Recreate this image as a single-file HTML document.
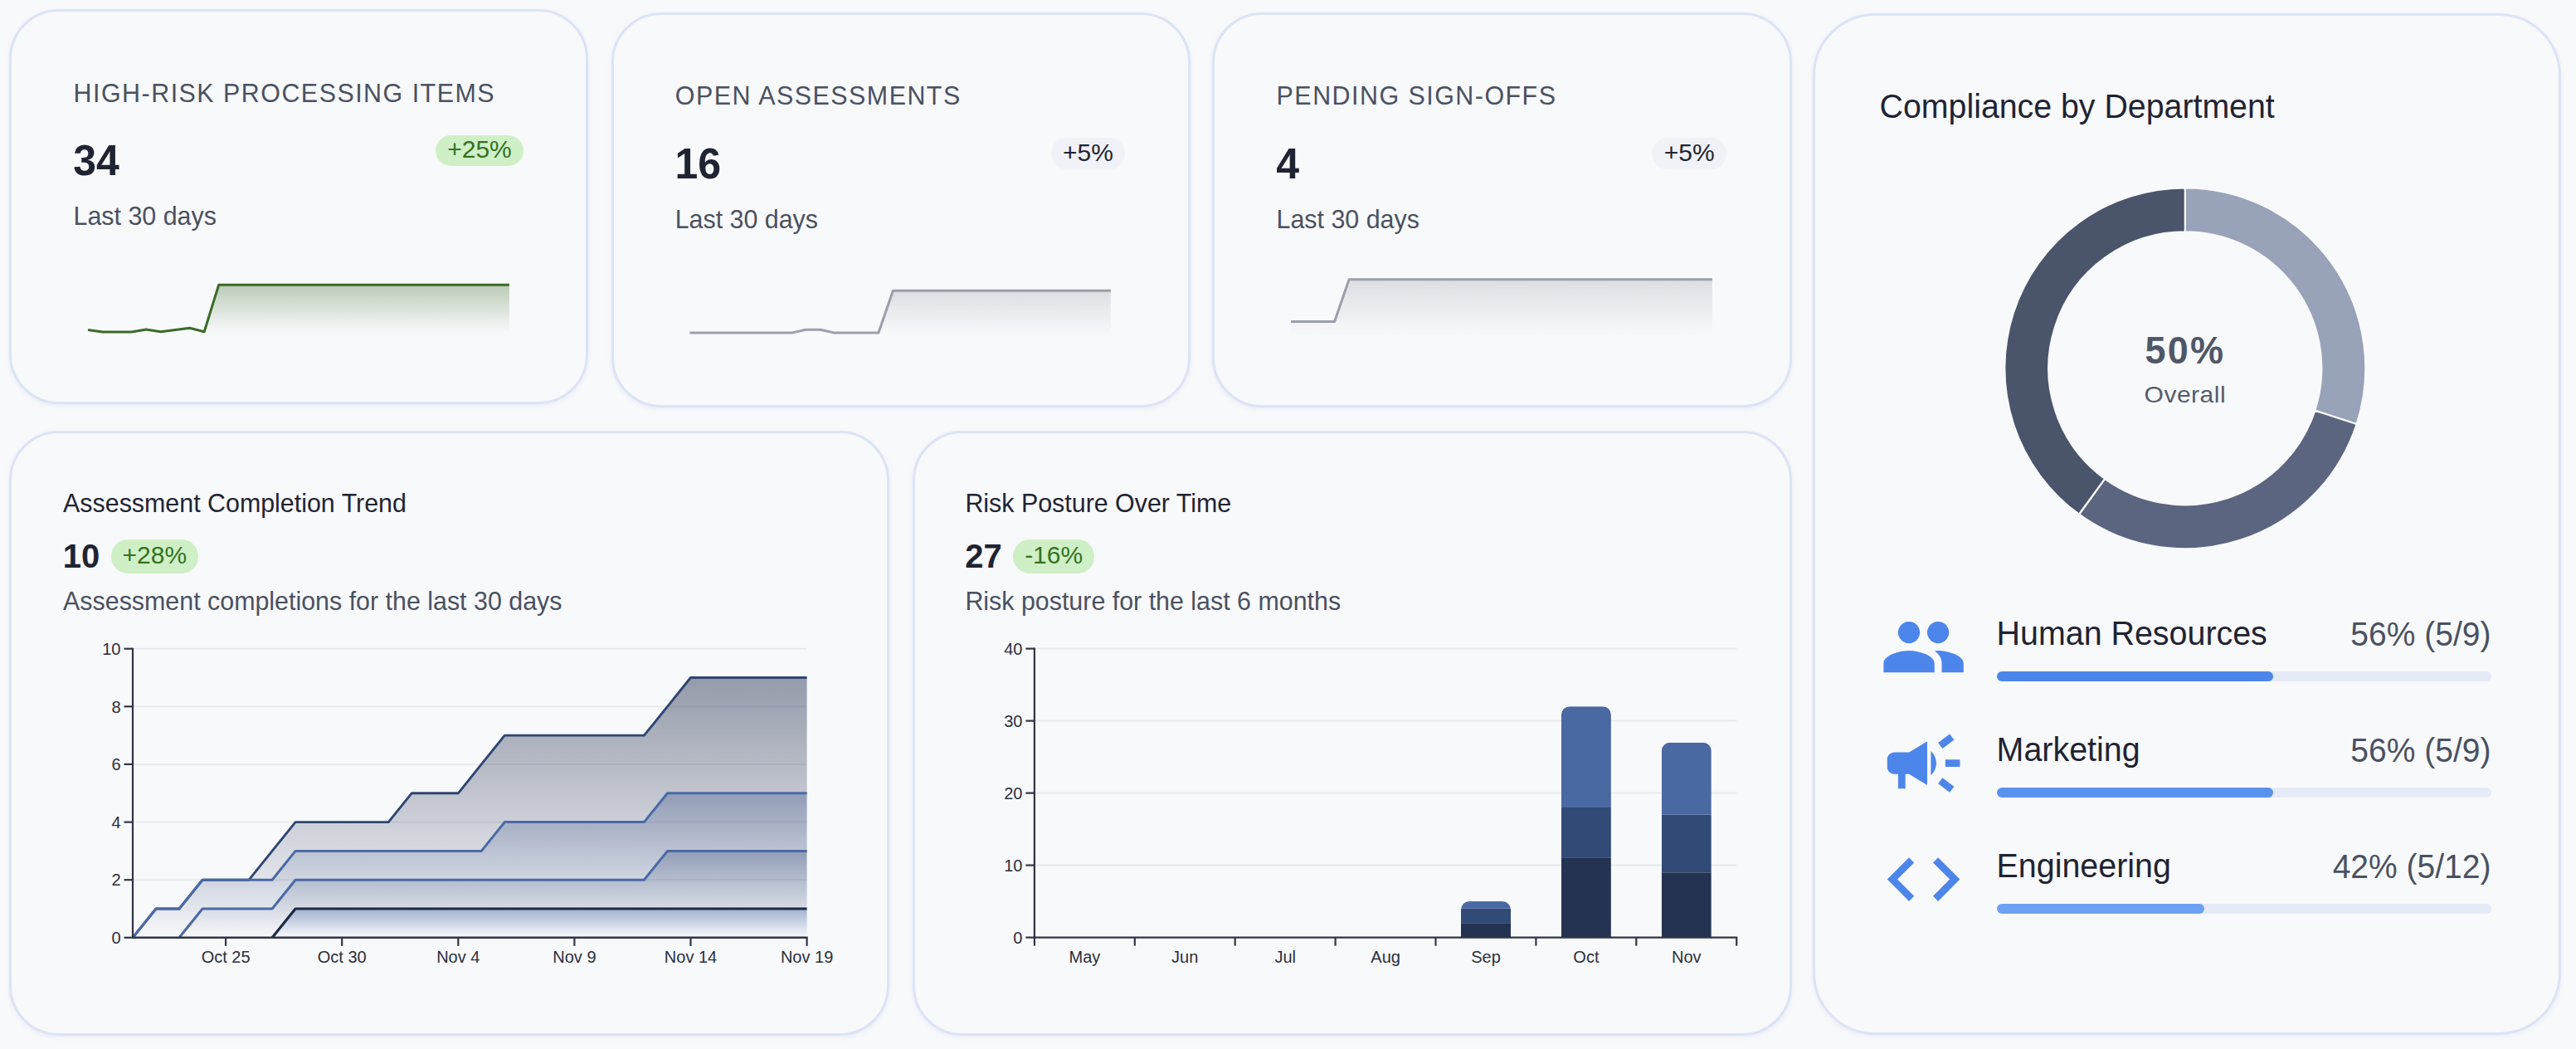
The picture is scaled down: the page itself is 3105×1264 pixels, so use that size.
<!DOCTYPE html>
<html lang="en"><head><meta charset="utf-8"><title>Compliance Dashboard</title>
<style>

html,body{margin:0;padding:0;overflow:hidden;}
body{width:3105px;height:1264px;background:#f8f9fb;position:relative;overflow:hidden;
 font-family:"Liberation Sans",sans-serif;}
.card{position:absolute;box-sizing:border-box;border:3px solid #dbe4f6;background:#f8f9fb;
 box-shadow:0 2px 5px rgba(190,205,235,0.25);}
.t{position:absolute;white-space:nowrap;transform:scaleY(1.03);transform-origin:0 84.65%;}
.badge{position:absolute;white-space:nowrap;}
svg{position:absolute;left:0;top:0;overflow:visible;}
svg text{font-family:"Liberation Sans",sans-serif;}
.bar{position:absolute;height:12.5px;border-radius:6.25px;}

</style></head><body>
<div class="card" style="left:11px;top:11px;width:698px;height:476px;border-radius:60px;"></div>
<div class="card" style="left:736.5px;top:14.5px;width:698.0px;height:476.5px;border-radius:60px;"></div>
<div class="card" style="left:1461px;top:14.5px;width:698.5px;height:476.5px;border-radius:60px;"></div>
<div class="card" style="left:11px;top:518.5px;width:1060.5px;height:729.5px;border-radius:60px;"></div>
<div class="card" style="left:1100px;top:518.5px;width:1059.5px;height:729.5px;border-radius:60px;"></div>
<div class="card" style="left:2184.5px;top:15.5px;width:902.0px;height:1231.5px;border-radius:75px;"></div>
<div class="t" style="left:88.60px;top:96.97px;font-size:30.4px;line-height:30.4px;color:#4a5161;letter-spacing:1.5px;">HIGH-RISK PROCESSING ITEMS</div>
<div class="t" style="left:88.20px;top:169.27px;font-size:50px;line-height:50px;color:#1f2433;font-weight:700;">34</div>
<div class="t" style="left:88.50px;top:245.27px;font-size:30.4px;line-height:30.4px;color:#4a5161;">Last 30 days</div>
<div class="badge" style="left:524.80px;top:162.90px;width:106.40px;height:37.30px;border-radius:18.65px;background:#cff0c6;color:#37711f;font-size:30px;"><span style="position:absolute;left:0;width:100%;text-align:center;top:2.20px;line-height:30px">+25%</span></div>
<div class="t" style="left:813.80px;top:100.47px;font-size:30.4px;line-height:30.4px;color:#4a5161;letter-spacing:1.5px;">OPEN ASSESSMENTS</div>
<div class="t" style="left:813.40px;top:172.77px;font-size:50px;line-height:50px;color:#1f2433;font-weight:700;">16</div>
<div class="t" style="left:813.70px;top:248.77px;font-size:30.4px;line-height:30.4px;color:#4a5161;">Last 30 days</div>
<div class="badge" style="left:1266.60px;top:166.40px;width:89.80px;height:37.30px;border-radius:18.65px;background:#f0f2f7;color:#1f2433;font-size:30px;"><span style="position:absolute;left:0;width:100%;text-align:center;top:2.20px;line-height:30px">+5%</span></div>
<div class="t" style="left:1538.60px;top:100.47px;font-size:30.4px;line-height:30.4px;color:#4a5161;letter-spacing:1.5px;">PENDING SIGN-OFFS</div>
<div class="t" style="left:1538.20px;top:172.77px;font-size:50px;line-height:50px;color:#1f2433;font-weight:700;">4</div>
<div class="t" style="left:1538.50px;top:248.77px;font-size:30.4px;line-height:30.4px;color:#4a5161;">Last 30 days</div>
<div class="badge" style="left:1991.40px;top:166.40px;width:89.80px;height:37.30px;border-radius:18.65px;background:#f0f2f7;color:#1f2433;font-size:30px;"><span style="position:absolute;left:0;width:100%;text-align:center;top:2.20px;line-height:30px">+5%</span></div>
<svg width="3105" height="1264" viewBox="0 0 3105 1264">
<defs><linearGradient id="g1" gradientUnits="userSpaceOnUse" x1="0" y1="343.3" x2="0" y2="401.0"><stop offset="0" stop-color="#3b6b27" stop-opacity="0.32"/><stop offset="1" stop-color="#3b6b27" stop-opacity="0"/></linearGradient></defs><path d="M106.1,397.6 L123.6,399.9 L141.1,399.9 L158.6,399.9 L176.1,397.1 L193.7,399.7 L211.2,397.5 L228.7,395.2 L246.2,399.7 L263.7,343.3 L281.2,343.3 L298.7,343.3 L316.2,343.3 L333.7,343.3 L351.2,343.3 L368.8,343.3 L386.3,343.3 L403.8,343.3 L421.3,343.3 L438.8,343.3 L456.3,343.3 L473.8,343.3 L491.3,343.3 L508.8,343.3 L526.3,343.3 L543.9,343.3 L561.4,343.3 L578.9,343.3 L596.4,343.3 L613.9,343.3 L613.9,401.0 L106.1,401.0 Z" fill="url(#g1)"/><path d="M106.1,397.6 L123.6,399.9 L141.1,399.9 L158.6,399.9 L176.1,397.1 L193.7,399.7 L211.2,397.5 L228.7,395.2 L246.2,399.7 L263.7,343.3 L281.2,343.3 L298.7,343.3 L316.2,343.3 L333.7,343.3 L351.2,343.3 L368.8,343.3 L386.3,343.3 L403.8,343.3 L421.3,343.3 L438.8,343.3 L456.3,343.3 L473.8,343.3 L491.3,343.3 L508.8,343.3 L526.3,343.3 L543.9,343.3 L561.4,343.3 L578.9,343.3 L596.4,343.3 L613.9,343.3" fill="none" stroke="#3b6b27" stroke-width="3" stroke-linejoin="round"/>
<defs><linearGradient id="g2" gradientUnits="userSpaceOnUse" x1="0" y1="350.3" x2="0" y2="403.0"><stop offset="0" stop-color="#7d8392" stop-opacity="0.23"/><stop offset="1" stop-color="#7d8392" stop-opacity="0"/></linearGradient></defs><path d="M831.4,401.1 L848.9,401.1 L866.4,401.1 L883.9,401.1 L901.4,401.1 L918.9,401.1 L936.4,401.1 L953.9,401.1 L971.4,397.3 L988.9,397.3 L1006.4,401.1 L1023.9,401.1 L1041.4,401.1 L1058.9,401.1 L1076.4,350.3 L1093.9,350.3 L1111.4,350.3 L1128.9,350.3 L1146.4,350.3 L1163.9,350.3 L1181.4,350.3 L1198.9,350.3 L1216.4,350.3 L1233.9,350.3 L1251.4,350.3 L1268.9,350.3 L1286.4,350.3 L1303.9,350.3 L1321.4,350.3 L1338.9,350.3 L1338.9,403.0 L831.4,403.0 Z" fill="url(#g2)"/><path d="M831.4,401.1 L848.9,401.1 L866.4,401.1 L883.9,401.1 L901.4,401.1 L918.9,401.1 L936.4,401.1 L953.9,401.1 L971.4,397.3 L988.9,397.3 L1006.4,401.1 L1023.9,401.1 L1041.4,401.1 L1058.9,401.1 L1076.4,350.3 L1093.9,350.3 L1111.4,350.3 L1128.9,350.3 L1146.4,350.3 L1163.9,350.3 L1181.4,350.3 L1198.9,350.3 L1216.4,350.3 L1233.9,350.3 L1251.4,350.3 L1268.9,350.3 L1286.4,350.3 L1303.9,350.3 L1321.4,350.3 L1338.9,350.3" fill="none" stroke="#9a9fab" stroke-width="3" stroke-linejoin="round"/>
<defs><linearGradient id="g3" gradientUnits="userSpaceOnUse" x1="0" y1="336.8" x2="0" y2="405.0"><stop offset="0" stop-color="#7d8392" stop-opacity="0.23"/><stop offset="1" stop-color="#7d8392" stop-opacity="0"/></linearGradient></defs><path d="M1556.1,387.6 L1573.6,387.6 L1591.1,387.6 L1608.6,387.6 L1626.1,336.8 L1643.6,336.8 L1661.2,336.8 L1678.7,336.8 L1696.2,336.8 L1713.7,336.8 L1731.2,336.8 L1748.7,336.8 L1766.2,336.8 L1783.7,336.8 L1801.2,336.8 L1818.8,336.8 L1836.3,336.8 L1853.8,336.8 L1871.3,336.8 L1888.8,336.8 L1906.3,336.8 L1923.8,336.8 L1941.3,336.8 L1958.8,336.8 L1976.3,336.8 L1993.8,336.8 L2011.4,336.8 L2028.9,336.8 L2046.4,336.8 L2063.9,336.8 L2063.9,405.0 L1556.1,405.0 Z" fill="url(#g3)"/><path d="M1556.1,387.6 L1573.6,387.6 L1591.1,387.6 L1608.6,387.6 L1626.1,336.8 L1643.6,336.8 L1661.2,336.8 L1678.7,336.8 L1696.2,336.8 L1713.7,336.8 L1731.2,336.8 L1748.7,336.8 L1766.2,336.8 L1783.7,336.8 L1801.2,336.8 L1818.8,336.8 L1836.3,336.8 L1853.8,336.8 L1871.3,336.8 L1888.8,336.8 L1906.3,336.8 L1923.8,336.8 L1941.3,336.8 L1958.8,336.8 L1976.3,336.8 L1993.8,336.8 L2011.4,336.8 L2028.9,336.8 L2046.4,336.8 L2063.9,336.8" fill="none" stroke="#9a9fab" stroke-width="3" stroke-linejoin="round"/>
</svg>
<div class="t" style="left:76.10px;top:590.97px;font-size:30.4px;line-height:30.4px;color:#1f2433;">Assessment Completion Trend</div>
<div class="t" style="left:75.80px;top:650.34px;font-size:40px;line-height:40px;color:#1f2433;font-weight:700;">10</div>
<div class="badge" style="left:133.80px;top:650.30px;width:105.20px;height:40.40px;border-radius:20.20px;background:#cff0c6;color:#37711f;font-size:30px;"><span style="position:absolute;left:0;width:100%;text-align:center;top:3.51px;line-height:30px">+28%</span></div>
<div class="t" style="left:76.10px;top:708.97px;font-size:30.4px;line-height:30.4px;color:#4a5161;">Assessment completions for the last 30 days</div>
<div class="t" style="left:1163.40px;top:590.97px;font-size:30.4px;line-height:30.4px;color:#1f2433;">Risk Posture Over Time</div>
<div class="t" style="left:1163.20px;top:650.34px;font-size:40px;line-height:40px;color:#1f2433;font-weight:700;">27</div>
<div class="badge" style="left:1221.00px;top:650.30px;width:98.30px;height:40.40px;border-radius:20.20px;background:#cff0c6;color:#37711f;font-size:30px;"><span style="position:absolute;left:0;width:100%;text-align:center;top:3.51px;line-height:30px">-16%</span></div>
<div class="t" style="left:1163.40px;top:708.97px;font-size:30.4px;line-height:30.4px;color:#4a5161;">Risk posture for the last 6 months</div>
<svg width="3105" height="1264" viewBox="0 0 3105 1264">
<line x1="161.0" x2="972.6" y1="1060.2" y2="1060.2" stroke="#e8eaef" stroke-width="2"/>
<line x1="161.0" x2="972.6" y1="990.6" y2="990.6" stroke="#e8eaef" stroke-width="2"/>
<line x1="161.0" x2="972.6" y1="920.9" y2="920.9" stroke="#e8eaef" stroke-width="2"/>
<line x1="161.0" x2="972.6" y1="851.3" y2="851.3" stroke="#e8eaef" stroke-width="2"/>
<line x1="161.0" x2="972.6" y1="781.7" y2="781.7" stroke="#e8eaef" stroke-width="2"/>
<defs>
<linearGradient id="a1" x1="0" y1="0" x2="0" y2="1"><stop offset="0" stop-color="#4c6aa5" stop-opacity="0.5"/><stop offset="1" stop-color="#4c6aa5" stop-opacity="0"/></linearGradient>
<linearGradient id="a2" x1="0" y1="0" x2="0" y2="1"><stop offset="0" stop-color="#2d4373" stop-opacity="0.5"/><stop offset="1" stop-color="#2d4373" stop-opacity="0"/></linearGradient>
<linearGradient id="a3" x1="0" y1="0" x2="0" y2="1"><stop offset="0" stop-color="#2d4373" stop-opacity="0.5"/><stop offset="1" stop-color="#2d4373" stop-opacity="0"/></linearGradient>
<linearGradient id="a4" x1="0" y1="0" x2="0" y2="1"><stop offset="0" stop-color="#323d5a" stop-opacity="0.5"/><stop offset="1" stop-color="#323d5a" stop-opacity="0"/></linearGradient>
</defs>
<path d="M160.0,1129.8 L188.0,1129.8 L216.0,1129.8 L244.1,1129.8 L272.1,1129.8 L300.1,1129.8 L328.1,1129.8 L356.1,1095.0 L384.2,1095.0 L412.2,1095.0 L440.2,1095.0 L468.2,1095.0 L496.2,1095.0 L524.3,1095.0 L552.3,1095.0 L580.3,1095.0 L608.3,1095.0 L636.3,1095.0 L664.4,1095.0 L692.4,1095.0 L720.4,1095.0 L748.4,1095.0 L776.4,1095.0 L804.5,1095.0 L832.5,1095.0 L860.5,1095.0 L888.5,1095.0 L916.5,1095.0 L944.6,1095.0 L972.6,1095.0 L972.6,1129.8 L944.6,1129.8 L916.5,1129.8 L888.5,1129.8 L860.5,1129.8 L832.5,1129.8 L804.5,1129.8 L776.4,1129.8 L748.4,1129.8 L720.4,1129.8 L692.4,1129.8 L664.4,1129.8 L636.3,1129.8 L608.3,1129.8 L580.3,1129.8 L552.3,1129.8 L524.3,1129.8 L496.2,1129.8 L468.2,1129.8 L440.2,1129.8 L412.2,1129.8 L384.2,1129.8 L356.1,1129.8 L328.1,1129.8 L300.1,1129.8 L272.1,1129.8 L244.1,1129.8 L216.0,1129.8 L188.0,1129.8 L160.0,1129.8 Z" fill="url(#a1u)"/>
<path d="M160.0,1129.8 L188.0,1129.8 L216.0,1129.8 L244.1,1095.0 L272.1,1095.0 L300.1,1095.0 L328.1,1095.0 L356.1,1060.2 L384.2,1060.2 L412.2,1060.2 L440.2,1060.2 L468.2,1060.2 L496.2,1060.2 L524.3,1060.2 L552.3,1060.2 L580.3,1060.2 L608.3,1060.2 L636.3,1060.2 L664.4,1060.2 L692.4,1060.2 L720.4,1060.2 L748.4,1060.2 L776.4,1060.2 L804.5,1025.4 L832.5,1025.4 L860.5,1025.4 L888.5,1025.4 L916.5,1025.4 L944.6,1025.4 L972.6,1025.4 L972.6,1095.0 L944.6,1095.0 L916.5,1095.0 L888.5,1095.0 L860.5,1095.0 L832.5,1095.0 L804.5,1095.0 L776.4,1095.0 L748.4,1095.0 L720.4,1095.0 L692.4,1095.0 L664.4,1095.0 L636.3,1095.0 L608.3,1095.0 L580.3,1095.0 L552.3,1095.0 L524.3,1095.0 L496.2,1095.0 L468.2,1095.0 L440.2,1095.0 L412.2,1095.0 L384.2,1095.0 L356.1,1095.0 L328.1,1129.8 L300.1,1129.8 L272.1,1129.8 L244.1,1129.8 L216.0,1129.8 L188.0,1129.8 L160.0,1129.8 Z" fill="url(#a2u)"/>
<path d="M160.0,1129.8 L188.0,1095.0 L216.0,1095.0 L244.1,1060.2 L272.1,1060.2 L300.1,1060.2 L328.1,1060.2 L356.1,1025.4 L384.2,1025.4 L412.2,1025.4 L440.2,1025.4 L468.2,1025.4 L496.2,1025.4 L524.3,1025.4 L552.3,1025.4 L580.3,1025.4 L608.3,990.6 L636.3,990.6 L664.4,990.6 L692.4,990.6 L720.4,990.6 L748.4,990.6 L776.4,990.6 L804.5,955.8 L832.5,955.8 L860.5,955.8 L888.5,955.8 L916.5,955.8 L944.6,955.8 L972.6,955.8 L972.6,1025.4 L944.6,1025.4 L916.5,1025.4 L888.5,1025.4 L860.5,1025.4 L832.5,1025.4 L804.5,1025.4 L776.4,1060.2 L748.4,1060.2 L720.4,1060.2 L692.4,1060.2 L664.4,1060.2 L636.3,1060.2 L608.3,1060.2 L580.3,1060.2 L552.3,1060.2 L524.3,1060.2 L496.2,1060.2 L468.2,1060.2 L440.2,1060.2 L412.2,1060.2 L384.2,1060.2 L356.1,1060.2 L328.1,1095.0 L300.1,1095.0 L272.1,1095.0 L244.1,1095.0 L216.0,1129.8 L188.0,1129.8 L160.0,1129.8 Z" fill="url(#a3u)"/>
<path d="M160.0,1129.8 L188.0,1095.0 L216.0,1095.0 L244.1,1060.2 L272.1,1060.2 L300.1,1060.2 L328.1,1025.4 L356.1,990.6 L384.2,990.6 L412.2,990.6 L440.2,990.6 L468.2,990.6 L496.2,955.8 L524.3,955.8 L552.3,955.8 L580.3,920.9 L608.3,886.1 L636.3,886.1 L664.4,886.1 L692.4,886.1 L720.4,886.1 L748.4,886.1 L776.4,886.1 L804.5,851.3 L832.5,816.5 L860.5,816.5 L888.5,816.5 L916.5,816.5 L944.6,816.5 L972.6,816.5 L972.6,955.8 L944.6,955.8 L916.5,955.8 L888.5,955.8 L860.5,955.8 L832.5,955.8 L804.5,955.8 L776.4,990.6 L748.4,990.6 L720.4,990.6 L692.4,990.6 L664.4,990.6 L636.3,990.6 L608.3,990.6 L580.3,1025.4 L552.3,1025.4 L524.3,1025.4 L496.2,1025.4 L468.2,1025.4 L440.2,1025.4 L412.2,1025.4 L384.2,1025.4 L356.1,1025.4 L328.1,1060.2 L300.1,1060.2 L272.1,1060.2 L244.1,1060.2 L216.0,1095.0 L188.0,1095.0 L160.0,1129.8 Z" fill="url(#a4u)"/>
<defs>
<linearGradient id="a1u" gradientUnits="userSpaceOnUse" x1="0" y1="1095.0" x2="0" y2="1129.8"><stop offset="0" stop-color="#4c6aa5" stop-opacity="0.5"/><stop offset="1" stop-color="#4c6aa5" stop-opacity="0"/></linearGradient>
<linearGradient id="a2u" gradientUnits="userSpaceOnUse" x1="0" y1="1025.4" x2="0" y2="1129.8"><stop offset="0" stop-color="#2d4373" stop-opacity="0.5"/><stop offset="1" stop-color="#2d4373" stop-opacity="0"/></linearGradient>
<linearGradient id="a3u" gradientUnits="userSpaceOnUse" x1="0" y1="955.8" x2="0" y2="1129.8"><stop offset="0" stop-color="#2d4373" stop-opacity="0.5"/><stop offset="1" stop-color="#2d4373" stop-opacity="0"/></linearGradient>
<linearGradient id="a4u" gradientUnits="userSpaceOnUse" x1="0" y1="816.5" x2="0" y2="1129.8"><stop offset="0" stop-color="#323d5a" stop-opacity="0.5"/><stop offset="1" stop-color="#323d5a" stop-opacity="0"/></linearGradient>
</defs>
<path d="M160.0,1129.8 L188.0,1095.0 L216.0,1095.0 L244.1,1060.2 L272.1,1060.2 L300.1,1060.2 L328.1,1025.4 L356.1,990.6 L384.2,990.6 L412.2,990.6 L440.2,990.6 L468.2,990.6 L496.2,955.8 L524.3,955.8 L552.3,955.8 L580.3,920.9 L608.3,886.1 L636.3,886.1 L664.4,886.1 L692.4,886.1 L720.4,886.1 L748.4,886.1 L776.4,886.1 L804.5,851.3 L832.5,816.5 L860.5,816.5 L888.5,816.5 L916.5,816.5 L944.6,816.5 L972.6,816.5" fill="none" stroke="#2f4572" stroke-width="2.9" stroke-linejoin="round"/>
<path d="M160.0,1129.8 L188.0,1095.0 L216.0,1095.0 L244.1,1060.2 L272.1,1060.2 L300.1,1060.2 L328.1,1060.2 L356.1,1025.4 L384.2,1025.4 L412.2,1025.4 L440.2,1025.4 L468.2,1025.4 L496.2,1025.4 L524.3,1025.4 L552.3,1025.4 L580.3,1025.4 L608.3,990.6 L636.3,990.6 L664.4,990.6 L692.4,990.6 L720.4,990.6 L748.4,990.6 L776.4,990.6 L804.5,955.8 L832.5,955.8 L860.5,955.8 L888.5,955.8 L916.5,955.8 L944.6,955.8 L972.6,955.8" fill="none" stroke="#4a69a6" stroke-width="3.0" stroke-linejoin="round"/>
<path d="M216.0,1129.8 L244.1,1095.0 L272.1,1095.0 L300.1,1095.0 L328.1,1095.0 L356.1,1060.2 L384.2,1060.2 L412.2,1060.2 L440.2,1060.2 L468.2,1060.2 L496.2,1060.2 L524.3,1060.2 L552.3,1060.2 L580.3,1060.2 L608.3,1060.2 L636.3,1060.2 L664.4,1060.2 L692.4,1060.2 L720.4,1060.2 L748.4,1060.2 L776.4,1060.2 L804.5,1025.4 L832.5,1025.4 L860.5,1025.4 L888.5,1025.4 L916.5,1025.4 L944.6,1025.4 L972.6,1025.4" fill="none" stroke="#4a69a6" stroke-width="3.0" stroke-linejoin="round"/>
<path d="M328.1,1129.8 L356.1,1095.0 L384.2,1095.0 L412.2,1095.0 L440.2,1095.0 L468.2,1095.0 L496.2,1095.0 L524.3,1095.0 L552.3,1095.0 L580.3,1095.0 L608.3,1095.0 L636.3,1095.0 L664.4,1095.0 L692.4,1095.0 L720.4,1095.0 L748.4,1095.0 L776.4,1095.0 L804.5,1095.0 L832.5,1095.0 L860.5,1095.0 L888.5,1095.0 L916.5,1095.0 L944.6,1095.0 L972.6,1095.0" fill="none" stroke="#1e2a44" stroke-width="3.2" stroke-linejoin="round"/>
<line x1="160.0" x2="160.0" y1="780.7" y2="1130.8" stroke="#2f3545" stroke-width="2.2"/>
<line x1="159.0" x2="973.6" y1="1129.8" y2="1129.8" stroke="#2f3545" stroke-width="2.4"/>
<line x1="149.5" x2="160.0" y1="1129.8" y2="1129.8" stroke="#2f3545" stroke-width="2.2"/>
<text x="145.5" y="1137.0" font-size="20" text-anchor="end" fill="#2a2f3d">0</text>
<line x1="149.5" x2="160.0" y1="1060.2" y2="1060.2" stroke="#2f3545" stroke-width="2.2"/>
<text x="145.5" y="1067.4" font-size="20" text-anchor="end" fill="#2a2f3d">2</text>
<line x1="149.5" x2="160.0" y1="990.6" y2="990.6" stroke="#2f3545" stroke-width="2.2"/>
<text x="145.5" y="997.8" font-size="20" text-anchor="end" fill="#2a2f3d">4</text>
<line x1="149.5" x2="160.0" y1="920.9" y2="920.9" stroke="#2f3545" stroke-width="2.2"/>
<text x="145.5" y="928.1" font-size="20" text-anchor="end" fill="#2a2f3d">6</text>
<line x1="149.5" x2="160.0" y1="851.3" y2="851.3" stroke="#2f3545" stroke-width="2.2"/>
<text x="145.5" y="858.5" font-size="20" text-anchor="end" fill="#2a2f3d">8</text>
<line x1="149.5" x2="160.0" y1="781.7" y2="781.7" stroke="#2f3545" stroke-width="2.2"/>
<text x="145.5" y="788.9" font-size="20" text-anchor="end" fill="#2a2f3d">10</text>
<line x1="272.1" x2="272.1" y1="1129.8" y2="1139.8" stroke="#2f3545" stroke-width="2.2"/>
<text x="272.1" y="1160.4" font-size="20" text-anchor="middle" fill="#2a2f3d">Oct 25</text>
<line x1="412.2" x2="412.2" y1="1129.8" y2="1139.8" stroke="#2f3545" stroke-width="2.2"/>
<text x="412.2" y="1160.4" font-size="20" text-anchor="middle" fill="#2a2f3d">Oct 30</text>
<line x1="552.3" x2="552.3" y1="1129.8" y2="1139.8" stroke="#2f3545" stroke-width="2.2"/>
<text x="552.3" y="1160.4" font-size="20" text-anchor="middle" fill="#2a2f3d">Nov 4</text>
<line x1="692.4" x2="692.4" y1="1129.8" y2="1139.8" stroke="#2f3545" stroke-width="2.2"/>
<text x="692.4" y="1160.4" font-size="20" text-anchor="middle" fill="#2a2f3d">Nov 9</text>
<line x1="832.5" x2="832.5" y1="1129.8" y2="1139.8" stroke="#2f3545" stroke-width="2.2"/>
<text x="832.5" y="1160.4" font-size="20" text-anchor="middle" fill="#2a2f3d">Nov 14</text>
<line x1="972.6" x2="972.6" y1="1129.8" y2="1139.8" stroke="#2f3545" stroke-width="2.2"/>
<text x="972.6" y="1160.4" font-size="20" text-anchor="middle" fill="#2a2f3d">Nov 19</text>
</svg>
<svg width="3105" height="1264" viewBox="0 0 3105 1264">
<line x1="1247.9" x2="2093.2" y1="1042.6" y2="1042.6" stroke="#e8eaef" stroke-width="2"/>
<line x1="1247.9" x2="2093.2" y1="955.6" y2="955.6" stroke="#e8eaef" stroke-width="2"/>
<line x1="1247.9" x2="2093.2" y1="868.6" y2="868.6" stroke="#e8eaef" stroke-width="2"/>
<line x1="1247.9" x2="2093.2" y1="781.6" y2="781.6" stroke="#e8eaef" stroke-width="2"/>
<clipPath id="cp4"><path d="M1761.0,1129.6 L1761.0,1096.1 A10.0,10.0 0 0 1 1771.0,1086.1 L1811.0,1086.1 A10.0,10.0 0 0 1 1821.0,1096.1 L1821.0,1129.6 Z"/></clipPath>
<g clip-path="url(#cp4)">
<rect x="1761.0" y="1112.2" width="60" height="17.4" fill="#233351"/>
<rect x="1761.0" y="1094.8" width="60" height="17.4" fill="#314a76"/>
<rect x="1761.0" y="1086.1" width="60" height="8.7" fill="#4a68a1"/>
</g>
<clipPath id="cp5"><path d="M1881.9,1129.6 L1881.9,861.2 A10.0,10.0 0 0 1 1891.9,851.2 L1931.9,851.2 A10.0,10.0 0 0 1 1941.9,861.2 L1941.9,1129.6 Z"/></clipPath>
<g clip-path="url(#cp5)">
<rect x="1881.9" y="1033.9" width="60" height="95.7" fill="#233351"/>
<rect x="1881.9" y="973.0" width="60" height="60.9" fill="#314a76"/>
<rect x="1881.9" y="851.2" width="60" height="121.8" fill="#4a68a1"/>
</g>
<clipPath id="cp6"><path d="M2002.8,1129.6 L2002.8,904.7 A10.0,10.0 0 0 1 2012.8,894.7 L2052.8,894.7 A10.0,10.0 0 0 1 2062.8,904.7 L2062.8,1129.6 Z"/></clipPath>
<g clip-path="url(#cp6)">
<rect x="2002.8" y="1051.3" width="60" height="78.3" fill="#233351"/>
<rect x="2002.8" y="981.7" width="60" height="69.6" fill="#314a76"/>
<rect x="2002.8" y="894.7" width="60" height="87.0" fill="#4a68a1"/>
</g>
<line x1="1246.9" x2="1246.9" y1="780.6" y2="1130.6" stroke="#2f3545" stroke-width="2.2"/>
<line x1="1245.9" x2="2094.2" y1="1129.6" y2="1129.6" stroke="#2f3545" stroke-width="2.4"/>
<line x1="1236.4" x2="1246.9" y1="1129.6" y2="1129.6" stroke="#2f3545" stroke-width="2.2"/>
<text x="1232.4" y="1136.8" font-size="20" text-anchor="end" fill="#2a2f3d">0</text>
<line x1="1236.4" x2="1246.9" y1="1042.6" y2="1042.6" stroke="#2f3545" stroke-width="2.2"/>
<text x="1232.4" y="1049.8" font-size="20" text-anchor="end" fill="#2a2f3d">10</text>
<line x1="1236.4" x2="1246.9" y1="955.6" y2="955.6" stroke="#2f3545" stroke-width="2.2"/>
<text x="1232.4" y="962.8" font-size="20" text-anchor="end" fill="#2a2f3d">20</text>
<line x1="1236.4" x2="1246.9" y1="868.6" y2="868.6" stroke="#2f3545" stroke-width="2.2"/>
<text x="1232.4" y="875.8" font-size="20" text-anchor="end" fill="#2a2f3d">30</text>
<line x1="1236.4" x2="1246.9" y1="781.6" y2="781.6" stroke="#2f3545" stroke-width="2.2"/>
<text x="1232.4" y="788.8" font-size="20" text-anchor="end" fill="#2a2f3d">40</text>
<line x1="1246.9" x2="1246.9" y1="1129.6" y2="1139.6" stroke="#2f3545" stroke-width="2.2"/>
<line x1="1367.8" x2="1367.8" y1="1129.6" y2="1139.6" stroke="#2f3545" stroke-width="2.2"/>
<line x1="1488.7" x2="1488.7" y1="1129.6" y2="1139.6" stroke="#2f3545" stroke-width="2.2"/>
<line x1="1609.6" x2="1609.6" y1="1129.6" y2="1139.6" stroke="#2f3545" stroke-width="2.2"/>
<line x1="1730.5" x2="1730.5" y1="1129.6" y2="1139.6" stroke="#2f3545" stroke-width="2.2"/>
<line x1="1851.4" x2="1851.4" y1="1129.6" y2="1139.6" stroke="#2f3545" stroke-width="2.2"/>
<line x1="1972.3" x2="1972.3" y1="1129.6" y2="1139.6" stroke="#2f3545" stroke-width="2.2"/>
<line x1="2093.2" x2="2093.2" y1="1129.6" y2="1139.6" stroke="#2f3545" stroke-width="2.2"/>
<text x="1307.4" y="1160.4" font-size="20" text-anchor="middle" fill="#2a2f3d">May</text>
<text x="1428.2" y="1160.4" font-size="20" text-anchor="middle" fill="#2a2f3d">Jun</text>
<text x="1549.2" y="1160.4" font-size="20" text-anchor="middle" fill="#2a2f3d">Jul</text>
<text x="1670.1" y="1160.4" font-size="20" text-anchor="middle" fill="#2a2f3d">Aug</text>
<text x="1791.0" y="1160.4" font-size="20" text-anchor="middle" fill="#2a2f3d">Sep</text>
<text x="1911.9" y="1160.4" font-size="20" text-anchor="middle" fill="#2a2f3d">Oct</text>
<text x="2032.8" y="1160.4" font-size="20" text-anchor="middle" fill="#2a2f3d">Nov</text>
</svg>
<div class="t" style="left:2265.60px;top:108.63px;font-size:39.3px;line-height:39.3px;color:#1f2433;">Compliance by Department</div>
<svg width="3105" height="1264" viewBox="0 0 3105 1264">
<path d="M2633.80,226.30 A217.5,217.5 0 0 1 2840.65,511.01 L2790.25,494.63 A164.5,164.5 0 0 0 2633.80,279.30 Z" fill="#98a2b8" stroke="#f8f9fb" stroke-width="2.2" stroke-linejoin="round"/>
<path d="M2840.65,511.01 A217.5,217.5 0 0 1 2505.96,619.76 L2537.11,576.88 A164.5,164.5 0 0 0 2790.25,494.63 Z" fill="#5b6580" stroke="#f8f9fb" stroke-width="2.2" stroke-linejoin="round"/>
<path d="M2505.96,619.76 A217.5,217.5 0 0 1 2633.80,226.30 L2633.80,279.30 A164.5,164.5 0 0 0 2537.11,576.88 Z" fill="#4a546b" stroke="#f8f9fb" stroke-width="2.2" stroke-linejoin="round"/>
</svg>
<div class="t" style="left:2332.80px;width:600px;text-align:center;top:399.51px;font-size:45px;line-height:45px;color:#505767;font-weight:700;letter-spacing:2.2px;text-indent:2.2px;">50%</div>
<div class="t" style="left:2333.60px;width:600px;text-align:center;top:460.21px;font-size:30px;line-height:30px;color:#555c6b;letter-spacing:0.5px;text-indent:0.5px;transform:scaleY(0.95);">Overall</div>
<svg style="left:2266.4px;top:727.3px" width="105.2" height="105.2" viewBox="0 0 24 24"><path d="M16 11c1.66 0 2.99-1.34 2.99-3S17.66 5 16 5c-1.66 0-3 1.34-3 3s1.34 3 3 3zm-8 0c1.66 0 2.99-1.34 2.99-3S9.66 5 8 5C6.34 5 5 6.34 5 8s1.34 3 3 3zm0 2c-2.33 0-7 1.17-7 3.5V19h14v-2.5c0-2.33-4.67-3.5-7-3.5zm8 0c-.29 0-.62.02-.97.05 1.16.84 1.97 1.97 1.97 3.45V19h6v-2.5c0-2.33-4.67-3.5-7-3.5z" fill="#4d86ea"/></svg>
<div class="t" style="left:2406.60px;top:744.25px;font-size:39.4px;line-height:39.4px;color:#1f2433;">Human Resources</div>
<div class="t" style="right:102.60px;top:744.59px;font-size:39px;line-height:39px;color:#4a5161;">56% (5/9)</div>
<div class="bar" style="left:2406.6px;top:808.9px;width:596px;background:#e4eaf6"></div>
<div class="bar" style="left:2406.6px;top:808.9px;width:333.8px;background:#4d86ea"></div>
<svg style="left:2266.4px;top:867.3px" width="105.2" height="105.2" viewBox="0 0 24 24"><path d="M18 11v2h4v-2zm-2 6.61c.96.71 2.21 1.65 3.2 2.39.4-.53.8-1.07 1.2-1.6-.99-.74-2.24-1.68-3.2-2.4-.4.54-.8 1.08-1.2 1.61M20.4 5.6c-.4-.53-.8-1.07-1.2-1.6-.99.74-2.24 1.68-3.2 2.4.4.53.8 1.07 1.2 1.6.96-.72 2.21-1.65 3.2-2.4M4 9c-1.1 0-2 .9-2 2v2c0 1.1.9 2 2 2h1v4h2v-4h1l5 3V6L8 9zm11.5 3c0-1.33-.58-2.53-1.5-3.35v6.69c.92-.81 1.5-2.01 1.5-3.34" fill="#4d86ea"/></svg>
<div class="t" style="left:2406.60px;top:884.25px;font-size:39.4px;line-height:39.4px;color:#1f2433;">Marketing</div>
<div class="t" style="right:102.60px;top:884.59px;font-size:39px;line-height:39px;color:#4a5161;">56% (5/9)</div>
<div class="bar" style="left:2406.6px;top:948.9px;width:596px;background:#e4eaf6"></div>
<div class="bar" style="left:2406.6px;top:948.9px;width:333.8px;background:#5b92ee"></div>
<svg style="left:2266.4px;top:1007.3px" width="105.2" height="105.2" viewBox="0 0 24 24"><path d="M9.4 16.6 4.8 12l4.6-4.6L8 6l-6 6 6 6zm5.2 0 4.6-4.6-4.6-4.6L16 6l6 6-6 6z" fill="#4d86ea"/></svg>
<div class="t" style="left:2406.60px;top:1024.25px;font-size:39.4px;line-height:39.4px;color:#1f2433;">Engineering</div>
<div class="t" style="right:102.60px;top:1024.59px;font-size:39px;line-height:39px;color:#4a5161;">42% (5/12)</div>
<div class="bar" style="left:2406.6px;top:1088.9px;width:596px;background:#e4eaf6"></div>
<div class="bar" style="left:2406.6px;top:1088.9px;width:250.3px;background:#6ea1f3"></div>
</body></html>
